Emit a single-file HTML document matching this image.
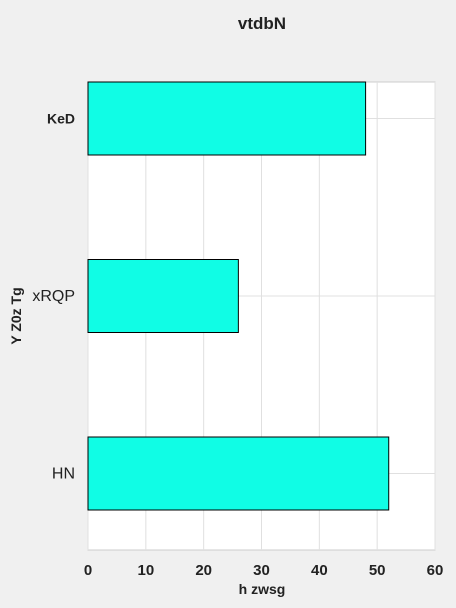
<!DOCTYPE html>
<html><head><meta charset="utf-8"><style>
body{margin:0;background:#f0f0f0;font-family:"Liberation Sans",sans-serif;}
svg{display:block}
</style></head><body>
<svg id="chart" width="456" height="608">
<rect x="0" y="0" width="456" height="608" fill="#f0f0f0"/>
<text x="262" y="29" text-anchor="middle" font-size="17" font-weight="bold" fill="#222">vtdbN</text>
<rect x="88" y="82" width="347" height="468" fill="#fff" stroke="#ccc"/>
<g id="grid"></g>
<g id="bars"></g>
<g id="xticks"></g>
<g id="yticks"></g>
<text x="262" y="594" text-anchor="middle" font-size="14" font-weight="bold" fill="#222">h zwsg</text>
<text transform="translate(21,316) rotate(-90)" text-anchor="middle" font-size="14" font-weight="bold" fill="#222">Y Z0z Tg</text>
</svg>
<script>
const categories=["KeD","xRQP","HN"];
const values=[48,26,52];
const xTicks=[0,10,20,30,40,50,60];
const ns="http://www.w3.org/2000/svg";
const L=88,R=435,T=82,B=550,xMax=60;
const xs=v=>L+(v/xMax)*(R-L);
const band=(B-T)/categories.length;
const yc=i=>T+band*i+36.5+ i*(band-0)*0 + (i*(177.5-band));
function mk(t,a,p){const e=document.createElementNS(ns,t);for(const k in a)e.setAttribute(k,a[k]);p.appendChild(e);return e;}
const g=document.getElementById('grid');
xTicks.forEach(t=>{const l=mk('line',{x1:xs(t),x2:xs(t),y1:T,y2:B,stroke:'#e0e0e0'},g);


const tx=mk('text',{x:xs(t),y:575,'text-anchor':'middle','font-size':15,'font-weight':'bold',fill:'#222'},document.getElementById('xticks'));
tx.textContent=t;

});
categories.forEach((c,i)=>{const cy=yc(i);
const hl=mk('line',{x1:L,x2:R,y1:cy,y2:cy,stroke:'#e0e0e0'},g);


const r=mk('rect',{x:L,y:cy-36.5,width:xs(values[i])-L,height:73,fill:'#10fde5',stroke:'#000','stroke-width':1},document.getElementById('bars'));


const tx=mk('text',{x:75,y:cy+5,'text-anchor':'end','font-size':i==0?14:16,'font-weight':i==0?'bold':'normal',fill:'#222'},document.getElementById('yticks'));
tx.textContent=c;

});
</script>
</body></html>
